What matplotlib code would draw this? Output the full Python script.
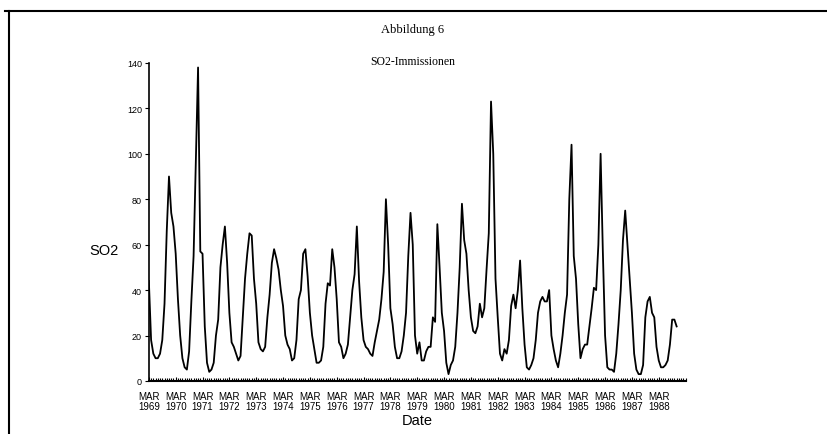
import matplotlib.pyplot as plt
from matplotlib.lines import Line2D
import numpy as np

# monthly SO2 values, first value = March 1969
so2 = [44, 18, 12, 10, 10, 12, 18, 34, 66, 90, 74, 68,      # 1969/70
       56, 36, 20, 10, 6, 5, 13, 35, 55, 97, 138, 57,       # 1970/71
       56, 24, 8, 4, 5, 8, 20, 27, 50, 60, 68, 52,          # 1971/72
       30, 17, 15, 12, 9, 11, 28, 45, 56, 65, 64, 45,       # 1972/73
       34, 17, 14, 13, 15, 28, 38, 52, 58, 54, 49, 40,      # 1973/74
       33, 20, 16, 14, 9, 10, 18, 36, 40, 56, 58, 46,       # 1974/75
       30, 20, 14, 8, 8, 9, 15, 34, 43, 42, 58, 50,         # 1975/76
       36, 17, 15, 10, 12, 16, 28, 40, 47, 68, 44, 28,      # 1976/77
       18, 15, 14, 12, 11, 17, 22, 27, 36, 48, 80, 60,      # 1977/78
       32, 25, 15, 10, 10, 13, 20, 30, 55, 74, 60, 20,      # 1978/79
       12, 17, 9, 9, 13, 15, 15, 28, 26, 69, 50, 30,        # 1979/80
       22, 8, 3, 7, 9, 15, 30, 50, 78, 62, 56, 40,          # 1980/81
       28, 22, 21, 24, 34, 28, 32, 49, 65, 123, 100, 45,    # 1981/82
       28, 12, 9, 14, 12, 18, 33, 38, 32, 40, 53, 32,       # 1982/83
       16, 6, 5, 7, 10, 18, 30, 35, 37, 35, 35, 40,         # 1983/84
       20, 14, 9, 6, 12, 20, 30, 38, 80, 104, 55, 45,       # 1984/85
       25, 10, 14, 16, 16, 24, 32, 41, 40, 60, 100, 57,     # 1985/86
       20, 6, 5, 5, 4, 12, 25, 40, 62, 75, 60, 45,          # 1986/87
       30, 12, 5, 3, 3, 7, 28, 35, 37, 30, 28, 15,          # 1987/88
       9, 6, 6, 7, 9, 16, 27, 27, 24]                       # 1988

years = list(range(1969, 1989))
year_labels = ['MAR\n%d' % y for y in years]
y_ticks = [0, 20, 40, 60, 80, 100, 120, 140]

months = np.arange(len(so2))

fig = plt.figure(figsize=(8.27, 4.35), dpi=100)
ax = fig.add_axes([0.180, 0.122, 0.649, 0.731])

ax.plot(months, so2, color='black', linewidth=1.3)

ax.set_xlim(0, 240)
ax.set_ylim(0, 140)
ax.spines['top'].set_visible(False)
ax.spines['right'].set_visible(False)
ax.spines['left'].set_linewidth(1.2)
ax.spines['bottom'].set_linewidth(1.5)

ax.set_xticks(np.arange(0, 240, 12))
ax.set_xticklabels(year_labels, fontsize=7, family='Liberation Sans', linespacing=1.0)
ax.set_xticks(np.arange(0, 241, 1), minor=True)
ax.tick_params(axis='x', which='major', length=3, direction='in', pad=7)
ax.tick_params(axis='x', which='minor', length=2, width=0.8, direction='in')

ax.set_yticks(y_ticks)
ax.set_yticklabels([str(v) for v in y_ticks], fontsize=6.5, family='Liberation Sans')
ax.tick_params(axis='y', length=3, direction='out', pad=2)

ax.set_xlabel('Date', fontsize=10.5, family='Liberation Sans', labelpad=2)
ax.set_ylabel('SO2', fontsize=10.5, family='Liberation Sans', rotation=0)
ax.yaxis.set_label_coords(-0.083, 0.39)

fig.text(0.499, 0.932, 'Abbildung 6', ha='center', va='center', fontsize=9, family='Liberation Serif')
fig.text(0.499, 0.858, 'SO2-Immissionen', ha='center', va='center', fontsize=8.5, family='Liberation Serif')

# page frame of the scan
fig.add_artist(Line2D([0.006, 1.0], [0.972, 0.972], transform=fig.transFigure, color='black', linewidth=1.5))
fig.add_artist(Line2D([0.011, 0.011], [0.0, 0.972], transform=fig.transFigure, color='black', linewidth=1.5))

fig.savefig('out.png', dpi=100)
